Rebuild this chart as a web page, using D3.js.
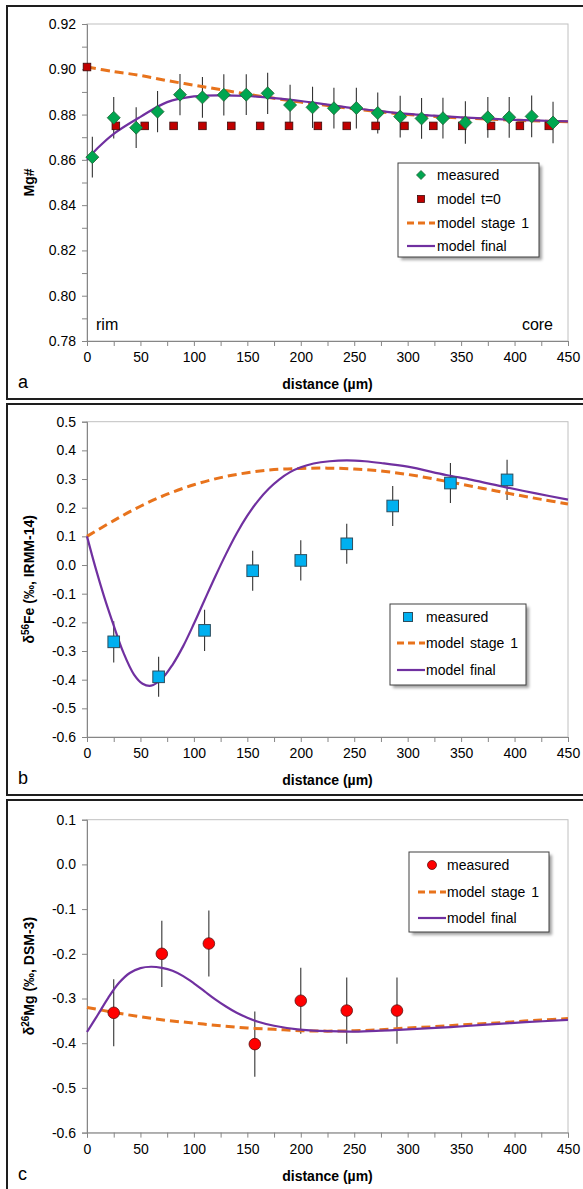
<!DOCTYPE html>
<html>
<head>
<meta charset="utf-8">
<script src="https://cdn.jsdelivr.net/npm/d3@7"></script>
<style>
    body { margin: 0; background: #fff; }
    svg { display: block; font-family: "Liberation Sans", Arial, sans-serif; }
</style>
</head>
<body>
<div id="chart"></div>
<script>
"use strict";

// ---- panel a : Mg# ----
var distA = [5, 25, 46, 66, 87, 108, 128, 149, 169, 190, 211, 231, 252, 272, 293, 313, 333, 354, 375, 395, 416, 436];
var mgMeasured = [0.8612, 0.8786, 0.8742, 0.8813, 0.8888, 0.8876, 0.8887, 0.8888, 0.8894, 0.8842, 0.8832, 0.8828,
    0.8829, 0.8807, 0.8791, 0.8783, 0.8784, 0.8765, 0.8788, 0.8788, 0.8792, 0.8765];
var mgErr = [0.009, 0.0092, 0.009, 0.0091, 0.0091, 0.009, 0.0091, 0.009, 0.0091, 0.009, 0.0091, 0.009,
    0.009, 0.0091, 0.0092, 0.009, 0.009, 0.0094, 0.009, 0.009, 0.0092, 0.0092];
var distT0 = [0, 27, 54, 81, 108, 135, 162, 189, 216, 243, 270, 297, 324, 351, 378, 405, 432];
var mgT0 = [0.901, 0.875, 0.875, 0.875, 0.875, 0.875, 0.875, 0.875, 0.875, 0.875, 0.875, 0.875, 0.875, 0.875, 0.875, 0.875, 0.875];
var distGrid = [0, 25, 50, 75, 100, 125, 150, 175, 200, 225, 250, 275, 300, 325, 350, 375, 400, 425, 450];
var mgStage1 = [0.901, 0.899, 0.8973, 0.895, 0.893, 0.891, 0.889, 0.8872, 0.8855, 0.884, 0.8825, 0.8812,
    0.880, 0.8792, 0.8785, 0.878, 0.8775, 0.8771, 0.8768];
var distMgFinal = [0, 10, 25, 50, 75, 100, 125, 150, 175, 200, 225, 250, 275, 300, 325, 350, 375, 400, 425, 450];
var mgFinal = [0.860, 0.8652, 0.8715, 0.879, 0.8855, 0.888, 0.8885, 0.8882, 0.8873, 0.886, 0.8844, 0.8828,
    0.8815, 0.8803, 0.8795, 0.8788, 0.8782, 0.8777, 0.8773, 0.877];
var yTicksA = [0.78, 0.80, 0.82, 0.84, 0.86, 0.88, 0.90, 0.92];
var yMinorA = [0.79, 0.81, 0.83, 0.85, 0.87, 0.89, 0.91];

// ---- panel b : d56Fe ----
var distB = [25, 67, 110, 155, 200, 243, 286, 340, 393];
var feMeasured = [-0.268, -0.39, -0.228, -0.02, 0.016, 0.074, 0.206, 0.286, 0.297];
var feErr = [0.072, 0.07, 0.072, 0.07, 0.07, 0.07, 0.07, 0.07, 0.07];
var feStage1 = [0.10, 0.155, 0.205, 0.247, 0.28, 0.305, 0.322, 0.333, 0.337, 0.338, 0.335, 0.328,
    0.316, 0.300, 0.282, 0.264, 0.246, 0.229, 0.213];
var distFeFinal = [0, 8, 16, 24, 34, 44, 52, 60, 70, 80, 90, 100, 110, 120, 130, 140, 150, 160, 170, 180,
    190, 200, 212, 227, 243, 260, 275, 300, 336, 360, 392, 420, 450];
var feFinal = [0.10, -0.01, -0.11, -0.20, -0.305, -0.382, -0.414, -0.421, -0.397, -0.348, -0.283, -0.205,
    -0.122, -0.040, 0.038, 0.110, 0.172, 0.224, 0.266, 0.299, 0.324, 0.341, 0.354, 0.362, 0.365, 0.362,
    0.356, 0.343, 0.314, 0.297, 0.271, 0.25, 0.228];
var yTicksB = [-0.6, -0.5, -0.4, -0.3, -0.2, -0.1, 0.0, 0.1, 0.2, 0.3, 0.4, 0.5];

// ---- panel c : d26Mg ----
var distC = [25, 70, 114, 157, 200, 243, 290];
var mgIsoMeasured = [-0.332, -0.200, -0.177, -0.402, -0.305, -0.327, -0.327];
var mgIsoErr = [0.075, 0.074, 0.074, 0.073, 0.074, 0.074, 0.074];
var mgIsoStage1 = [-0.320, -0.331, -0.341, -0.349, -0.355, -0.361, -0.366, -0.369, -0.372, -0.373, -0.372,
    -0.370, -0.366, -0.363, -0.359, -0.356, -0.352, -0.348, -0.345];
var distMgIsoFinal = [0, 10, 20, 30, 40, 50, 60, 70, 80, 90, 100, 110, 120, 130, 140, 150, 160, 175, 197,
    225, 250, 275, 300, 340, 370, 410, 450];
var mgIsoFinal = [-0.375, -0.337, -0.298, -0.265, -0.243, -0.232, -0.229, -0.2315, -0.238, -0.250, -0.266,
    -0.284, -0.302, -0.318, -0.332, -0.343, -0.352, -0.361, -0.369, -0.373, -0.374, -0.372, -0.369, -0.364,
    -0.359, -0.353, -0.348];
var yTicksC = [-0.6, -0.5, -0.4, -0.3, -0.2, -0.1, 0.0, 0.1];

var xTicks = [0, 50, 100, 150, 200, 250, 300, 350, 400, 450];
var xMinor = [25, 75, 125, 175, 225, 275, 325, 375, 425];

var W = 583, H = 1189,
    left = 87, right = 568,
    colOrange = "#e8731c", colPurple = "#7030a0";

var svg = d3.select("#chart").append("svg")
    .attr("width", W)
    .attr("height", H);

var defs = svg.append("defs");
defs.append("filter").attr("id", "blur")
    .append("feGaussianBlur").attr("stdDeviation", 1.5);

var x = d3.scaleLinear().domain([0, 450]).range([left, right]);

var zip = function (xs, ys) {
    return xs.map(function (d, i) { return [d, ys[i]]; });
};

var diamondPath = function (cx, cy, r) {
    return "M" + cx + "," + (cy - r) + "L" + (cx + r) + "," + cy + "L" + cx + "," + (cy + r) + "L" + (cx - r) + "," + cy + "Z";
};

// kind: diamond / redsq / bluesq / circle, s = half size
var drawMarker = function (g, kind, cx, cy, s) {
    if (kind === "diamond") {
        g.append("path")
            .attr("d", diamondPath(cx, cy, s))
            .attr("fill", "#00a650").attr("stroke", "#1f5f33").attr("stroke-width", 0.8);
    } else if (kind === "redsq") {
        g.append("rect")
            .attr("x", cx - s).attr("y", cy - s).attr("width", 2 * s).attr("height", 2 * s)
            .attr("fill", "#c00000").attr("stroke", "#3a0a0a").attr("stroke-width", 0.8);
    } else if (kind === "bluesq") {
        g.append("rect")
            .attr("x", cx - s).attr("y", cy - s).attr("width", 2 * s).attr("height", 2 * s)
            .attr("fill", "#00b0f0").attr("stroke", "#2d4d5d").attr("stroke-width", 1);
    } else if (kind === "circle") {
        g.append("circle")
            .attr("cx", cx).attr("cy", cy).attr("r", s)
            .attr("fill", "#ff0000").attr("stroke", "#5a1010").attr("stroke-width", 0.8);
    }
};

var markerSize = { diamond: 6.5, redsq: 3.8, bluesq: 5.8, circle: 5.8 };
var legendSize = { diamond: 4.5, redsq: 3.5, bluesq: 4.5, circle: 4.5 };

var drawPanel = function (p) {
    var g = svg.append("g");
    var y = d3.scaleLinear().domain(p.yDomain).range([p.bottom, p.top]);

    // frame
    g.append("rect")
        .attr("x", 7).attr("y", p.frameTop)
        .attr("width", 620).attr("height", p.frameBottom - p.frameTop)
        .attr("fill", "none").attr("stroke", "#1e1e1e").attr("stroke-width", 2);

    // plot area border
    g.append("rect")
        .attr("x", left).attr("y", p.top)
        .attr("width", right - left).attr("height", p.bottom - p.top)
        .attr("fill", "none").attr("stroke", "#c0c0c0").attr("stroke-width", 1);

    // axes
    var yAxis = g.append("g")
        .attr("transform", "translate(" + left + ",0)")
        .call(d3.axisLeft(y).tickValues(p.yTicks).tickSize(5).tickPadding(6)
            .tickFormat(function (d) { return d.toFixed(p.digits); }));
    if (p.yMinor) {
        yAxis.selectAll(".minor").data(p.yMinor).enter().append("line")
            .attr("class", "minor")
            .attr("x1", -5).attr("x2", 0)
            .attr("y1", function (d) { return y(d) + 0.5; })
            .attr("y2", function (d) { return y(d) + 0.5; })
            .attr("stroke", "#868686");
    }
    var xAxis = g.append("g")
        .attr("transform", "translate(0," + p.bottom + ")")
        .call(d3.axisBottom(x).tickValues(xTicks).tickSize(5).tickPadding(6)
            .tickFormat(function (d) { return d; }));
    xAxis.selectAll(".minor").data(xMinor).enter().append("line")
        .attr("class", "minor")
        .attr("y1", 0).attr("y2", 5)
        .attr("x1", function (d) { return x(d) + 0.5; })
        .attr("x2", function (d) { return x(d) + 0.5; })
        .attr("stroke", "#868686");

    [yAxis, xAxis].forEach(function (a) {
        a.select(".domain").attr("stroke", "#868686");
        a.selectAll(".tick line").attr("stroke", "#868686");
        a.selectAll(".tick text").attr("fill", "#000").attr("font-size", 14)
            .attr("font-family", "Liberation Sans, Arial, sans-serif");
    });

    // axis titles
    g.append("text")
        .attr("x", (left + right) / 2).attr("y", p.bottom + 48)
        .attr("text-anchor", "middle").attr("font-size", 14).attr("font-weight", "bold")
        .text("distance (µm)");
    var yt = g.append("text")
        .attr("transform", "translate(34," + (p.top + p.bottom) / 2 + ") rotate(-90)")
        .attr("text-anchor", "middle").attr("font-size", 14).attr("font-weight", "bold");
    p.yTitle(yt);

    g.append("text")
        .attr("x", 18).attr("y", p.bottom + 47)
        .attr("font-size", 18)
        .text(p.label);

    var line = d3.line()
        .x(function (d) { return x(d[0]); })
        .y(function (d) { return y(d[1]); })
        .curve(d3.curveCatmullRom.alpha(0.5));

    // error bars
    var pts = p.measured;
    g.selectAll(".err").data(pts).enter().append("line")
        .attr("x1", function (d) { return x(d[0]); })
        .attr("x2", function (d) { return x(d[0]); })
        .attr("y1", function (d) { return y(d[1] - d[2]); })
        .attr("y2", function (d) { return y(d[1] + d[2]); })
        .attr("stroke", "#333").attr("stroke-width", 1.1);

    g.append("path").datum(p.stage1).attr("d", line)
        .attr("fill", "none").attr("stroke", colOrange).attr("stroke-width", 3)
        .attr("stroke-dasharray", "9,5");
    g.append("path").datum(p.final).attr("d", line)
        .attr("fill", "none").attr("stroke", colPurple).attr("stroke-width", 2.2);

    if (p.t0) {
        p.t0.forEach(function (d) { drawMarker(g, "redsq", x(d[0]), y(d[1]), markerSize.redsq); });
    }
    pts.forEach(function (d) { drawMarker(g, p.marker, x(d[0]), y(d[1]), markerSize[p.marker]); });

    // legend
    var L = p.legend;
    g.append("rect")
        .attr("x", L.x + 3).attr("y", L.y + 3).attr("width", L.w).attr("height", L.h)
        .attr("fill", "#7a7a7a").attr("opacity", 0.7).attr("filter", "url(#blur)");
    g.append("rect")
        .attr("x", L.x).attr("y", L.y).attr("width", L.w).attr("height", L.h)
        .attr("fill", "#fff").attr("stroke", "#404040").attr("stroke-width", 1);
    L.items.forEach(function (it, i) {
        var cy = L.rows[i];
        if (it.type === "line") {
            g.append("line")
                .attr("x1", L.lx1).attr("x2", L.lx2).attr("y1", cy).attr("y2", cy)
                .attr("stroke", it.dashed ? colOrange : colPurple)
                .attr("stroke-width", it.dashed ? 3 : 2.2)
                .attr("stroke-dasharray", it.dashed ? "7,4" : null);
        } else {
            drawMarker(g, it.type, L.mx, cy, legendSize[it.type]);
        }
        g.append("text")
            .attr("x", L.tx).attr("y", cy + 5)
            .attr("font-size", 14).attr("word-spacing", 2)
            .text(it.text);
    });

    return { g: g, y: y };
};

var panelA = drawPanel({
    frameTop: 6, frameBottom: 399, top: 24, bottom: 341,
    yDomain: [0.78, 0.92], yTicks: yTicksA, yMinor: yMinorA, digits: 2, label: "a",
    yTitle: function (t) { t.text("Mg#"); },
    measured: distA.map(function (d, i) { return [d, mgMeasured[i], mgErr[i]]; }),
    t0: zip(distT0, mgT0),
    stage1: zip(distGrid, mgStage1),
    final: zip(distMgFinal, mgFinal),
    marker: "diamond",
    legend: {
        x: 398, y: 163, w: 141, h: 94, mx: 421, lx1: 407, lx2: 435, tx: 437,
        rows: [175, 199, 223, 246],
        items: [{ type: "diamond", text: "measured" }, { type: "redsq", text: "model t=0" },
            { type: "line", dashed: true, text: "model stage 1" }, { type: "line", text: "model final" }]
    }
});
panelA.g.append("text").attr("x", 96).attr("y", 330).attr("font-size", 16).text("rim");
panelA.g.append("text").attr("x", 553).attr("y", 330).attr("font-size", 16)
    .attr("text-anchor", "end").text("core");

drawPanel({
    frameTop: 404, frameBottom: 795, top: 421.7, bottom: 737,
    yDomain: [-0.6, 0.5], yTicks: yTicksB, digits: 1, label: "b",
    yTitle: function (t) {
        t.append("tspan").text("δ");
        t.append("tspan").attr("font-size", 10).attr("dy", -5).text("56");
        t.append("tspan").attr("dy", 5).text("Fe (‰, IRMM-14)");
    },
    measured: distB.map(function (d, i) { return [d, feMeasured[i], feErr[i]]; }),
    stage1: zip(distGrid, feStage1),
    final: zip(distFeFinal, feFinal),
    marker: "bluesq",
    legend: {
        x: 390, y: 604, w: 136, h: 81, mx: 408, lx1: 397, lx2: 425, tx: 426,
        rows: [617, 643, 670],
        items: [{ type: "bluesq", text: "measured" },
            { type: "line", dashed: true, text: "model stage 1" }, { type: "line", text: "model final" }]
    }
});

drawPanel({
    frameTop: 800, frameBottom: 1200, top: 819.7, bottom: 1132.6,
    yDomain: [-0.6, 0.1], yTicks: yTicksC, digits: 1, label: "c",
    yTitle: function (t) {
        t.append("tspan").text("δ");
        t.append("tspan").attr("font-size", 10).attr("dy", -5).text("26");
        t.append("tspan").attr("dy", 5).text("Mg (‰, DSM-3)");
    },
    measured: distC.map(function (d, i) { return [d, mgIsoMeasured[i], mgIsoErr[i]]; }),
    stage1: zip(distGrid, mgIsoStage1),
    final: zip(distMgIsoFinal, mgIsoFinal),
    marker: "circle",
    legend: {
        x: 409, y: 852, w: 140, h: 80, mx: 432, lx1: 418, lx2: 446, tx: 447,
        rows: [865, 892, 918],
        items: [{ type: "circle", text: "measured" },
            { type: "line", dashed: true, text: "model stage 1" }, { type: "line", text: "model final" }]
    }
});
</script>
</body>
</html>
